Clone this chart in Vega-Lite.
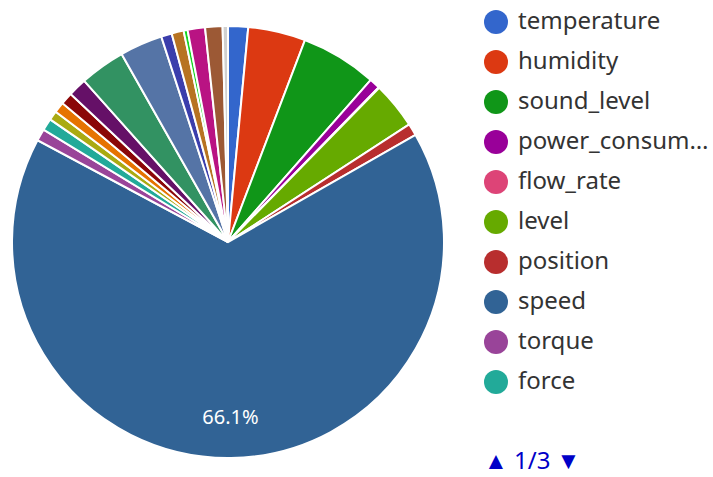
{
  "$schema": "https://vega.github.io/schema/vega-lite/v6.json",
  "width": 456,
  "height": 484,
  "autosize": {"type": "pad"},
  "padding": 0,
  "background": "white",
  "data": {
    "values": [
      {"i": 1, "name": "temperature", "value": 15},
      {"i": 2, "name": "humidity", "value": 43},
      {"i": 3, "name": "sound_level", "value": 57},
      {"i": 4, "name": "power_consumption", "value": 8},
      {"i": 5, "name": "flow_rate", "value": 0.5},
      {"i": 6, "name": "level", "value": 35},
      {"i": 7, "name": "position", "value": 9},
      {"i": 8, "name": "speed", "value": 661},
      {"i": 9, "name": "torque", "value": 9},
      {"i": 10, "name": "force", "value": 9},
      {"i": 11, "name": "vibration", "value": 7},
      {"i": 12, "name": "current", "value": 8},
      {"i": 13, "name": "voltage", "value": 9},
      {"i": 14, "name": "frequency", "value": 14},
      {"i": 15, "name": "pressure", "value": 34},
      {"i": 16, "name": "acceleration", "value": 32},
      {"i": 17, "name": "rpm", "value": 8},
      {"i": 18, "name": "load", "value": 9},
      {"i": 19, "name": "strain", "value": 3},
      {"i": 20, "name": "displacement", "value": 13},
      {"i": 21, "name": "weight", "value": 13},
      {"i": 22, "name": "other", "value": 4}
    ]
  },
  "transform": [
    {"joinaggregate": [{"op": "sum", "field": "value", "as": "total"}]},
    {"calculate": "format(datum.value / datum.total, '.1%')", "as": "pct"}
  ],
  "encoding": {
    "theta": {"field": "value", "type": "quantitative", "stack": true},
    "order": {"field": "i", "type": "quantitative"}
  },
  "layer": [
    {
      "mark": {"type": "arc", "outerRadius": 216, "stroke": "white", "strokeWidth": 2},
      "encoding": {
        "color": {
          "field": "name",
          "type": "nominal",
          "scale": {
            "domain": ["temperature", "humidity", "sound_level", "power_consumption", "flow_rate", "level", "position", "speed", "torque", "force", "vibration", "current", "voltage", "frequency", "pressure", "acceleration", "rpm", "load", "strain", "displacement", "weight", "other"],
            "range": ["#3366cc", "#dc3912", "#109618", "#990099", "#dd4477", "#66aa00", "#b82e2e", "#316395", "#994499", "#22aa99", "#aaaa11", "#e67300", "#8b0707", "#651067", "#329262", "#5574a6", "#3b3eac", "#b77322", "#16d620", "#b91383", "#9c5935", "#d0d0d0"]
          },
          "legend": {
            "values": ["temperature", "humidity", "sound_level", "power_consumption", "flow_rate", "level", "position", "speed", "torque", "force"],
            "orient": "none",
            "legendX": 484,
            "legendY": 10,
            "padding": 0,
            "symbolType": "circle",
            "symbolSize": 576,
            "symbolStrokeWidth": 0,
            "symbolOpacity": 1,
            "labelFont": "Noto Sans",
            "labelFontSize": 24,
            "labelColor": "#333333",
            "labelOffset": 10,
            "labelLimit": 195,
            "rowPadding": 16,
            "title": "▲ 1/3 ▼",
            "titleOrient": "bottom",
            "titleAnchor": "start",
            "titleFont": "Noto Sans",
            "titleFontSize": 24,
            "titleFontWeight": "normal",
            "titleColor": "#0000c8",
            "titlePadding": 56
          }
        }
      }
    },
    {
      "mark": {"type": "text", "radius": 176, "font": "Noto Sans", "fontSize": 20, "color": "white"},
      "encoding": {
        "text": {"condition": {"test": "datum.name === 'speed'", "field": "pct"}, "value": ""}
      }
    }
  ]
}
